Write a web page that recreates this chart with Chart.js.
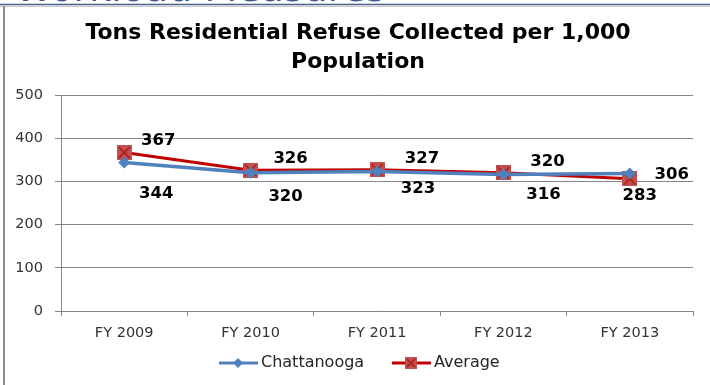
<!DOCTYPE html>
<html>
<head>
<meta charset="utf-8">
<script src="https://cdn.jsdelivr.net/npm/chart.js@4.4.1/dist/chart.umd.min.js"></script>
<style>
  html, body { margin: 0; padding: 0; background: #ffffff; }
  #wrap { position: relative; width: 710px; height: 385px; }
</style>
</head>
<body>
<div id="wrap"><canvas id="chart" width="710" height="385"></canvas></div>
<script>
// --- Datos ---
const categories = ['FY 2009', 'FY 2010', 'FY 2011', 'FY 2012', 'FY 2013'];
const chattanooga = [344, 320, 323, 316, 318];
const average = [367, 326, 327, 320, 306];
const chattanoogaLabels = ['344', '320', '323', '316', '306'];
const averageLabels = ['367', '326', '327', '320', '283'];
const yTicks = [0, 100, 200, 300, 400, 500];

// desplazamiento de las etiquetas respecto al punto (px)
const chattLabelOffsets = [[32, 31], [35, 24], [41, 17], [40, 20], [42, 1]];
const avgLabelOffsets = [[34, -12], [40, -11], [45, -11], [44, -11], [10, 17]];

const BLUE = '#4f81bd';
const RED = '#c00000';
const GRID = '#868686';

// --- Marcadores ---
const makeSquareX = (size) => {
    const c = document.createElement('canvas');
    c.width = size; c.height = size;
    const g = c.getContext('2d');
    g.fillStyle = '#c0504d';
    g.fillRect(0, 0, size, size);
    g.strokeStyle = '#b01818';
    g.lineWidth = 1.6;
    g.beginPath();
    g.moveTo(2, 2); g.lineTo(size - 2, size - 2);
    g.moveTo(size - 2, 2); g.lineTo(2, size - 2);
    g.stroke();
    return c;
};
const squareMarker = makeSquareX(15);
const squareLegend = makeSquareX(12);

const framePlugin = {
    id: 'frame',
    beforeDraw(chart) {
        const ctx = chart.ctx;
        ctx.save();
        ctx.fillStyle = '#ffffff';
        ctx.fillRect(0, 0, chart.width, chart.height);
        // título de la diapositiva cortado arriba
        ctx.fillStyle = '#3f5a8a';
        ctx.font = "38px 'DejaVu Sans'";
        ctx.textBaseline = 'alphabetic';
        ctx.fillText('Workload Measures', 15, 1);
        ctx.fillStyle = '#ffffff';
        ctx.fillRect(0, 3, chart.width, 3);
        ctx.strokeStyle = '#4a5f85';
        ctx.lineWidth = 1.5;
        ctx.beginPath(); ctx.moveTo(0, 4.5); ctx.lineTo(chart.width, 4.5); ctx.stroke();
        ctx.strokeStyle = '#c8c8c8';
        ctx.lineWidth = 1;
        ctx.beginPath(); ctx.moveTo(0, 6.5); ctx.lineTo(chart.width, 6.5); ctx.stroke();
        ctx.strokeStyle = '#8c8c8c';
        ctx.lineWidth = 2;
        ctx.beginPath(); ctx.moveTo(4, 6); ctx.lineTo(4, chart.height); ctx.stroke();
        // título del gráfico
        ctx.fillStyle = '#000000';
        ctx.font = "bold 22px 'DejaVu Sans'";
        ctx.textAlign = 'center';
        ctx.textBaseline = 'middle';
        ctx.fillText('Tons Residential Refuse Collected per 1,000', 358, 33);
        ctx.fillText('Population', 358, 62);
        ctx.restore();
    },
    afterDatasetsDraw(chart) {
        const ctx = chart.ctx;
        const xs = chart.scales.x, ys = chart.scales.y;
        ctx.save();
        ctx.fillStyle = '#000000';
        ctx.font = "bold 16.5px 'DejaVu Sans'";
        ctx.textAlign = 'center';
        ctx.textBaseline = 'middle';
        chattanoogaLabels.forEach((t, i) => {
            const o = chattLabelOffsets[i];
            ctx.fillText(t, xs.getPixelForValue(i) + o[0], ys.getPixelForValue(chattanooga[i]) + o[1]);
        });
        averageLabels.forEach((t, i) => {
            const o = avgLabelOffsets[i];
            ctx.fillText(t, xs.getPixelForValue(i) + o[0], ys.getPixelForValue(average[i]) + o[1]);
        });

        // leyenda
        const ly = 363;
        ctx.lineWidth = 3;
        ctx.strokeStyle = BLUE;
        ctx.beginPath(); ctx.moveTo(219, ly); ctx.lineTo(258, ly); ctx.stroke();
        ctx.fillStyle = BLUE;
        ctx.beginPath();
        ctx.moveTo(238, ly - 5); ctx.lineTo(243, ly); ctx.lineTo(238, ly + 5); ctx.lineTo(233, ly);
        ctx.closePath(); ctx.fill();
        ctx.strokeStyle = RED;
        ctx.beginPath(); ctx.moveTo(392, ly); ctx.lineTo(431, ly); ctx.stroke();
        ctx.drawImage(squareLegend, 405, ly - 6);
        ctx.fillStyle = '#262626';
        ctx.font = "16px 'DejaVu Sans'";
        ctx.textAlign = 'left';
        ctx.fillText('Chattanooga', 261, ly);
        ctx.fillText('Average', 434, ly);
        ctx.restore();
    }
};

new Chart(document.getElementById('chart').getContext('2d'), {
    type: 'line',
    data: {
        labels: categories,
        datasets: [
            {
                label: 'Chattanooga',
                data: chattanooga,
                borderColor: BLUE,
                backgroundColor: BLUE,
                borderWidth: 3.5,
                pointStyle: 'rectRot',
                pointRadius: 6,
                pointBorderWidth: 0,
                tension: 0
            },
            {
                label: 'Average',
                data: average,
                borderColor: RED,
                backgroundColor: RED,
                borderWidth: 3,
                pointStyle: squareMarker,
                pointRadius: 8,
                tension: 0
            }
        ]
    },
    options: {
        responsive: false,
        animation: false,
        layout: { padding: { top: 95, right: 17, bottom: 44, left: 0 } },
        plugins: {
            legend: { display: false },
            title: { display: false },
            tooltip: { enabled: false }
        },
        scales: {
            x: {
                offset: true,
                grid: { offset: true, drawOnChartArea: false, tickLength: 5, color: GRID },
                border: { color: GRID },
                ticks: { color: '#333333', font: { family: 'DejaVu Sans', size: 14.5 }, padding: 9 },
                afterFit: (s) => { s.height = 30; }
            },
            y: {
                min: 0,
                max: 500,
                afterBuildTicks: (s) => { s.ticks = yTicks.map(v => ({ value: v })); },
                grid: { color: GRID, tickLength: 6 },
                border: { color: GRID },
                ticks: { color: '#333333', font: { family: 'DejaVu Sans', size: 14.5 }, padding: 12 },
                afterFit: (s) => { s.width = 61; }
            }
        }
    },
    plugins: [framePlugin]
});
</script>
</body>
</html>
